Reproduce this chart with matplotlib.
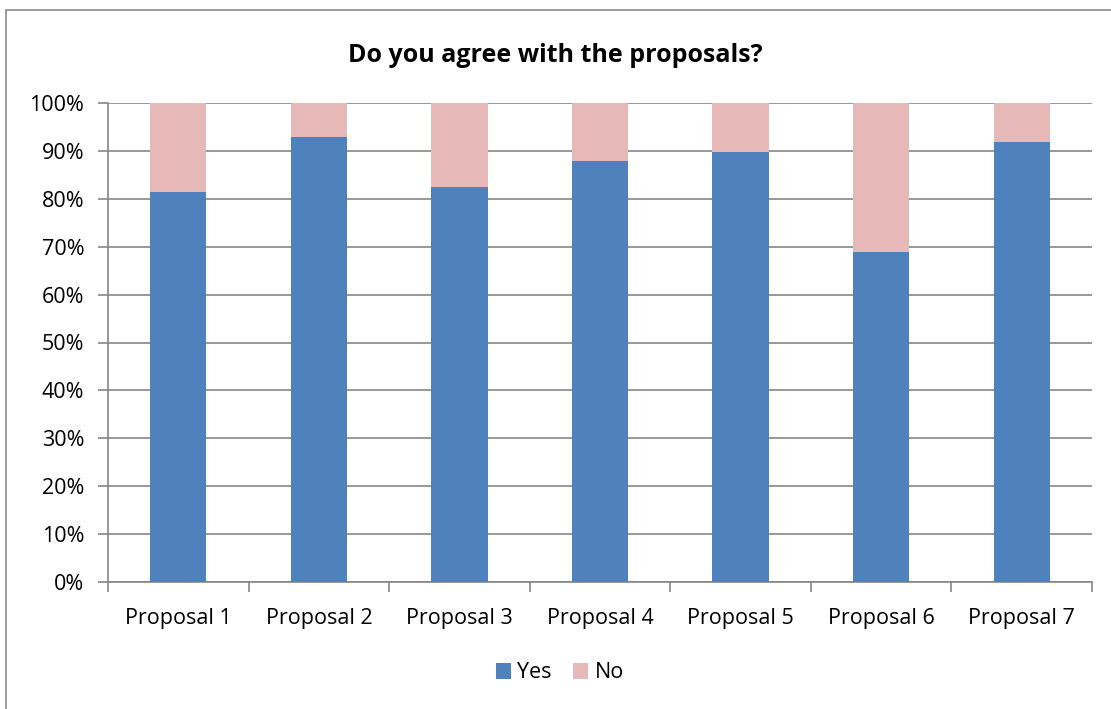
import numpy as np
import matplotlib
matplotlib.use('Agg')
import matplotlib.pyplot as plt
from matplotlib.ticker import PercentFormatter, FixedLocator
from matplotlib.patches import Rectangle

proposals = ['Proposal 1', 'Proposal 2', 'Proposal 3', 'Proposal 4',
             'Proposal 5', 'Proposal 6', 'Proposal 7']
yes = [81.5, 93.0, 82.5, 87.8, 89.8, 68.8, 91.8]
no = [100 - v for v in yes]

blue = '#4F81BD'
pink = '#E6B9B8'
grid_col = '#868686'

plt.rcParams['font.family'] = ['Open Sans', 'DejaVu Sans']

fig = plt.figure(figsize=(11.11, 7.09), dpi=100)
# chart frame (only left/top visible in the reference)
fig.patches.append(Rectangle((6 / 1111, -0.05), 1.2, 1 - 10 / 709 + 0.05,
                             transform=fig.transFigure, fill=False,
                             edgecolor='#8c8c8c', linewidth=1.2))

ax = fig.add_axes([108 / 1111, 1 - 582 / 709, (1092 - 108) / 1111, (582 - 103) / 709])

x = np.arange(len(proposals))
ax.bar(x, yes, width=0.4, color=blue, label='Yes', zorder=3)
ax.bar(x, no, width=0.4, bottom=yes, color=pink, label='No', zorder=3)

ax.set_xlim(-0.5, len(proposals) - 0.5)
ax.set_ylim(0, 100)
ax.set_yticks(np.arange(0, 101, 10))
ax.yaxis.set_major_formatter(PercentFormatter(decimals=0))
ax.yaxis.grid(True, color=grid_col, linewidth=1.2, zorder=0)

ax.set_xticks(x)
ax.set_xticklabels(proposals)
ax.xaxis.set_minor_locator(FixedLocator(np.arange(-0.5, len(proposals), 1)))
ax.tick_params(axis='x', which='major', length=0, pad=19, labelsize=15.5)
ax.tick_params(axis='x', which='minor', length=7, color=grid_col, width=1.2)
ax.tick_params(axis='y', length=7, color=grid_col, width=1.2, labelsize=15.5, pad=10)

for s in ['top', 'right']:
    ax.spines[s].set_visible(False)
for s in ['left', 'bottom']:
    ax.spines[s].set_color(grid_col)
    ax.spines[s].set_linewidth(1.2)

fig.text(0.5, 1 - 55 / 709, 'Do you agree with the proposals?', ha='center', va='center',
         fontsize=18, fontweight='bold')

fig.legend(loc='center', bbox_to_anchor=(560 / 1111, 1 - 673 / 709), ncol=2,
           frameon=False, fontsize=15.5, handlelength=0.7, handleheight=0.7,
           handletextpad=0.3, columnspacing=1.0)

fig.savefig('out.png', dpi=100)
